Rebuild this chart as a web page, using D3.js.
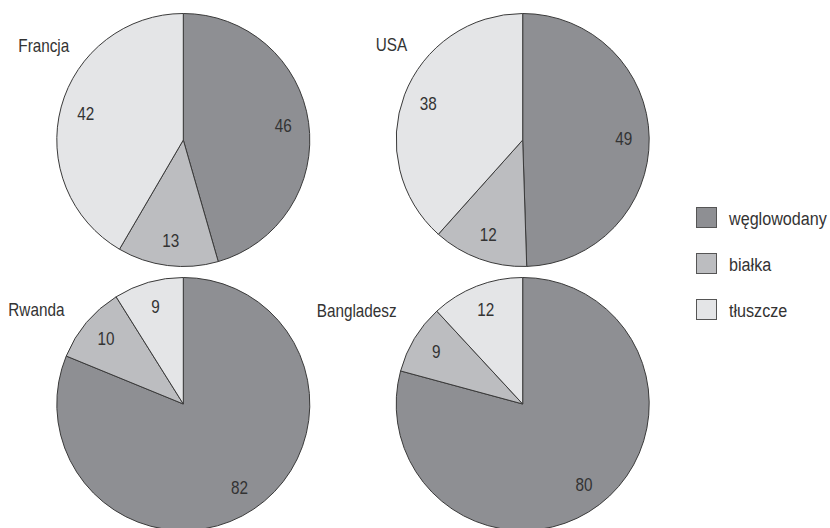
<!DOCTYPE html>
<html>
<head>
<meta charset="utf-8">
<script src="https://cdn.jsdelivr.net/npm/d3@7"></script>
<style>
  html, body { margin: 0; padding: 0; background: #fff; }
  svg { display: block; }
  text { font-family: "Liberation Sans", Arial, sans-serif; fill: #333; }
</style>
</head>
<body>
<svg id="chart" width="830" height="528"></svg>
<script>
// ---- data ----
const countries = ["Francja", "USA", "Rwanda", "Bangladesz"];
const categories = ["węglowodany", "białka", "tłuszcze"];
const carbs   = [46, 49, 82, 80];
const protein = [13, 12, 10, 9];
const fats    = [42, 38, 9, 12];

// ---- layout ----
const W = 830, H = 528;
const SX = 0.85; // horizontal condensing to mimic a condensed face
const svg = d3.select("#chart");
const colors = d3.scaleOrdinal().domain(categories).range(["#8e8f93", "#bcbdc0", "#e4e5e7"]);
const colX = d3.scalePoint().domain([0, 1]).range([183.3, 522.7]);
const rowY = d3.scalePoint().domain([0, 1]).range([140, 404]);
const R = 126.5, labelR = 101;

const pie = d3.pie().sort(null).value(d => d.value);
const arc = d3.arc().innerRadius(0).outerRadius(R);
const labelArc = d3.arc().innerRadius(labelR).outerRadius(labelR);

countries.forEach((c, i) => {
  const cx = colX(i % 2), cy = rowY(Math.floor(i / 2));
  const data = [
    { cat: categories[0], value: carbs[i] },
    { cat: categories[1], value: protein[i] },
    { cat: categories[2], value: fats[i] }
  ];
  const g = svg.append("g").attr("transform", `translate(${cx},${cy})`);
  const arcs = pie(data);
  g.selectAll("path").data(arcs).join("path")
    .attr("d", arc)
    .attr("fill", d => colors(d.data.cat))
    .attr("stroke", "#3a3a3a")
    .attr("stroke-width", 1);
  g.selectAll("text.val").data(arcs).join("text")
    .attr("class", "val")
    .attr("transform", d => `translate(${labelArc.centroid(d)}) scale(${SX},1)`)
    .attr("text-anchor", "middle")
    .attr("dy", "0.36em")
    .style("font-size", "18px")
    .text(d => d.data.value);
});

// titles
const titleX = [18.3, 375.7, 8.3, 316.7];
const titleY = [51.7, 50.7, 316, 316.7];
countries.forEach((c, i) => {
  svg.append("text")
    .attr("transform", `translate(${titleX[i]},${titleY[i]}) scale(${SX},1)`)
    .style("font-size", "18px")
    .text(c);
});

// legend
const legend = svg.append("g").attr("transform", "translate(696,207)");
const ly = d3.scalePoint().domain(categories).range([0, 92]);
categories.forEach(cat => {
  const row = legend.append("g").attr("transform", `translate(0,${ly(cat)})`);
  row.append("rect").attr("x", 0.5).attr("y", 0.5).attr("width", 20).attr("height", 20)
    .attr("fill", colors(cat)).attr("stroke", "#555").attr("stroke-width", 1);
  row.append("text")
    .attr("transform", `translate(33,17.5) scale(${SX},1)`)
    .style("font-size", "19px")
    .text(cat);
});
</script>
</body>
</html>
